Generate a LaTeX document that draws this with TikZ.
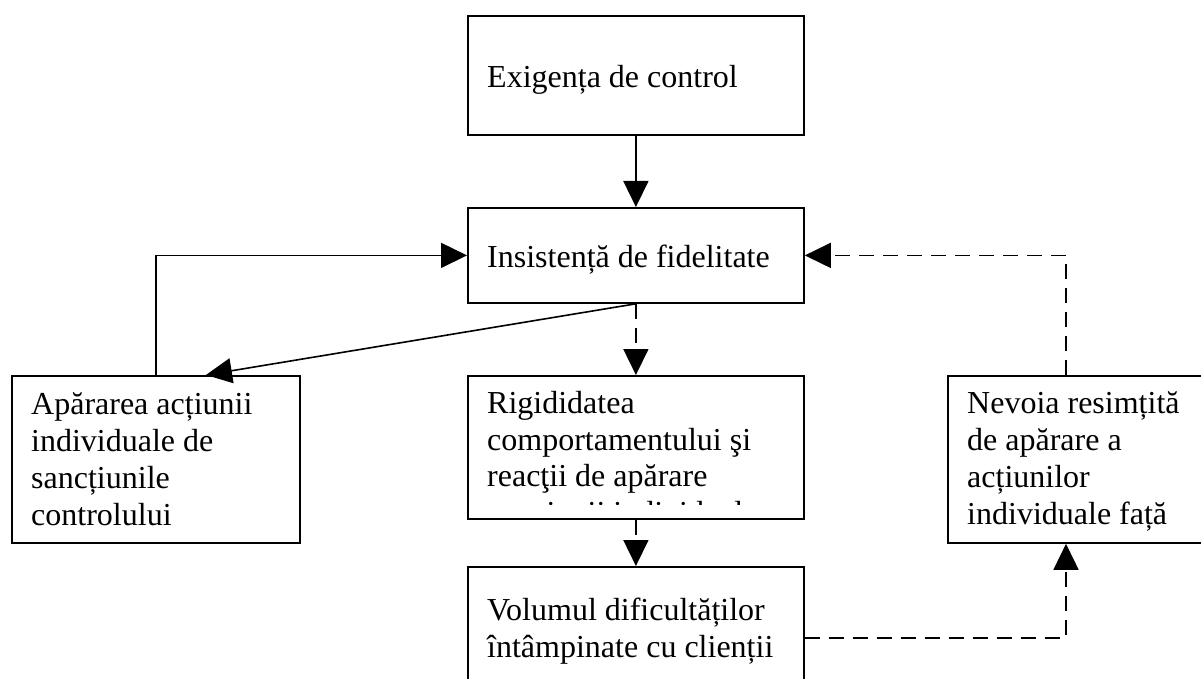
\documentclass[tikz,border=0pt]{standalone}
\usepackage{fontspec}
\setmainfont{Liberation Serif}
\usetikzlibrary{arrows.meta}
\begin{document}
\begin{tikzpicture}[x=1pt,y=-1pt,
  box/.style={draw,line width=1.8pt,rectangle,inner sep=0pt,anchor=north west},
  txt/.style={anchor=base west,inner sep=0pt,font=\fontsize{32}{37}\selectfont},
  link/.style={line width=1.6pt,-{Triangle[length=26pt,width=25pt]}},
  dashlink/.style={link,dash pattern=on 15pt off 9pt}]

% canvas
\fill[white] (0,0) rectangle (1201,679);
\useasboundingbox (0,0) rectangle (1201,679);

% boxes
\node[box,minimum width=336pt,minimum height=119pt] (ex)  at (467,15)  {};
\node[box,minimum width=336pt,minimum height=95pt]  (ins) at (467,207) {};
\node[box,minimum width=288pt,minimum height=167pt] (lb)  at (11,375)  {};
\node[box,minimum width=336pt,minimum height=143pt] (mid) at (467,375) {};
\node[box,minimum width=300pt,minimum height=167pt] (rb)  at (947,375) {};
\node[box,minimum width=336pt,minimum height=142pt] (vol) at (467,566) {};

% texts
\node[txt] (ex1)  at (487,88)  {Exigența de control};
\node[txt] (ins1) at (487,267) {Insistență de fidelitate};

\node[txt] (lb1) at (31,414) {Apărarea acțiunii};
\node[txt] (lb2) at (31,451) {individuale de};
\node[txt] (lb3) at (31,488) {sancțiunile};
\node[txt] (lb4) at (31,525) {controlului};

\node[txt] (mid1) at (487,413) {Rigididatea};
\node[txt] (mid2) at (487,450) {comportamentului şi};
\node[txt] (mid3) at (487,486) {reacţii de apărare};
\begin{scope}
  \clip (467,375) rectangle (803,504);
  \node[txt] (mid4) at (487,523) {a acțiunii individuale};
\end{scope}

\node[txt] (rb1) at (967,413) {Nevoia resimțită};
\node[txt] (rb2) at (967,450) {de apărare a};
\node[txt] (rb3) at (967,487) {acțiunilor};
\node[txt] (rb4) at (967,524) {individuale față};

\node[txt] (vol1) at (487,620) {Volumul dificultăților};
\node[txt] (vol2) at (487,657) {întâmpinate cu clienții};

% connectors
\draw[link] (ex.south) -- (ins.north);
\draw[dashlink] (ins.south) -- (mid.north);
\draw[link] (ins.south) -- ([xshift=50pt]lb.north);
\draw[link] (lb.north) |- (ins.west);
\draw[dashlink] ([xshift=119pt]rb.north west) |- (ins.east);
\draw[dashlink] (mid.south) -- (vol.north);
\draw[dashlink] (vol.east) -| ([xshift=119pt]rb.south west);
\end{tikzpicture}
\end{document}
